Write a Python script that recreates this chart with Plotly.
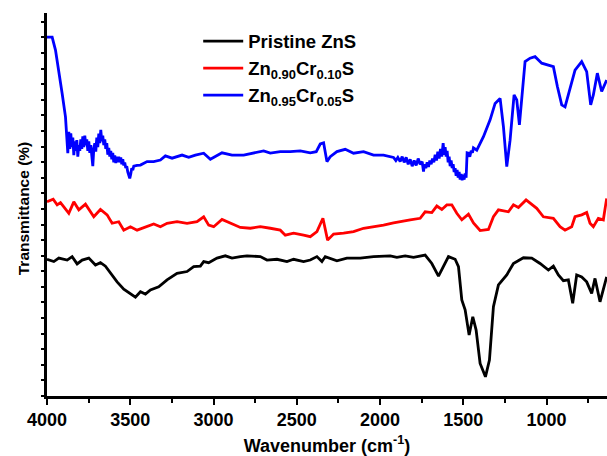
import plotly.graph_objects as go

# Pristine ZnS
wn_black = [4000, 3959, 3929, 3879, 3849, 3819, 3789, 3749, 3709, 3679, 3649, 3619, 3579, 3539, 3499, 3469,
            3439, 3409, 3379, 3329, 3279, 3219, 3159, 3119, 3079, 3059, 3029, 2979, 2929, 2889, 2839, 2799,
            2719, 2679, 2619, 2559, 2519, 2459, 2419, 2379, 2349, 2329, 2259, 2199, 2119, 2039, 1939, 1899,
            1849, 1799, 1729, 1689, 1649, 1619, 1589, 1549, 1529, 1509, 1489, 1465, 1443, 1423, 1399, 1367,
            1343, 1319, 1289, 1239, 1199, 1139, 1089, 1039, 989, 959, 929, 899, 869, 843, 819, 789, 759,
            729, 709, 679, 639]
t_black = [35.7, 35.1, 36.0, 35.5, 36.4, 34.5, 35.5, 36.0, 34.2, 34.8, 33.9, 32.0, 29.8, 27.9, 26.8, 25.8,
           27.2, 26.6, 27.7, 28.5, 30.3, 32.0, 32.5, 33.8, 33.9, 35.1, 34.8, 36.0, 36.6, 36.0, 36.4, 36.6,
           36.4, 35.5, 35.7, 35.1, 35.7, 35.1, 35.5, 36.4, 35.1, 36.4, 35.3, 36.0, 36.0, 36.4, 36.6, 36.2,
           36.6, 36.2, 36.8, 34.6, 31.3, 33.8, 36.4, 35.7, 33.8, 25.1, 22.5, 15.9, 20.7, 17.2, 8.5, 5.0,
           9.4, 23.3, 29.0, 31.6, 34.6, 36.1, 36.0, 34.6, 32.9, 33.9, 31.6, 30.1, 30.3, 24.2, 31.6, 31.1, 29.8,
           26.8, 30.7, 24.6, 31.1]

# Zn0.90Cr0.10S
wn_red = [4000, 3963, 3939, 3919, 3899, 3869, 3839, 3809, 3769, 3719, 3679, 3639, 3609, 3569, 3539, 3499,
          3459, 3399, 3359, 3319, 3279, 3219, 3159, 3099, 3059, 3029, 2999, 2949, 2919, 2889, 2839, 2779,
          2719, 2659, 2599, 2569, 2519, 2459, 2419, 2379, 2343, 2315, 2279, 2219, 2159, 2099, 2039, 1979,
          1919, 1859, 1819, 1759, 1729, 1689, 1659, 1629, 1599, 1569, 1539, 1509, 1469, 1439, 1399, 1349,
          1319, 1289, 1229, 1199, 1169, 1123, 1089, 1059, 1019, 959, 919, 889, 849, 829, 789, 759, 739,
          719, 689, 659, 639]
t_red = [50.7, 51.4, 49.9, 50.5, 49.4, 47.7, 50.7, 48.6, 50.1, 46.8, 48.7, 47.3, 45.1, 45.5, 43.3, 44.2,
         43.3, 44.2, 44.9, 44.2, 45.1, 45.5, 45.1, 45.5, 46.8, 44.6, 44.2, 46.1, 45.5, 45.1, 44.0, 43.8,
         44.2, 43.8, 43.3, 42.0, 42.5, 42.0, 41.6, 42.9, 46.4, 40.7, 42.3, 42.5, 42.9, 43.8, 44.2, 44.6,
         45.2, 45.8, 46.0, 46.4, 48.1, 47.9, 49.6, 48.7, 49.9, 49.9, 47.7, 46.0, 47.5, 45.2, 43.2, 43.5,
         46.8, 48.6, 48.1, 49.9, 49.2, 51.2, 49.9, 49.0, 46.8, 46.4, 44.2, 43.3, 44.2, 46.8, 47.3, 47.9, 45.1,
         44.2, 46.4, 46.0, 51.6]

# Zn0.95Cr0.05S
wn_blue = [4000, 3969, 3949, 3929, 3909, 3889,
           3875, 3869, 3863, 3857, 3851, 3845, 3839, 3833, 3827, 3821, 3815, 3809, 3803, 3797, 3791, 3785,
           3779, 3773, 3767, 3761, 3755, 3749, 3743, 3737, 3731, 3725, 3719, 3713, 3707, 3701, 3695, 3689,
           3683, 3677, 3671, 3665, 3659, 3653, 3647, 3641, 3635, 3629, 3623, 3617, 3611, 3605, 3599, 3593,
           3587, 3581, 3575, 3569, 3563, 3557, 3551, 3545, 3539, 3533, 3527, 3521, 3515, 3509, 3503, 3497,
           3491, 3485, 3479, 3459, 3439, 3399, 3359, 3319, 3289, 3249, 3189, 3149, 3109,
           3059, 3019, 2949, 2889, 2819, 2759, 2699, 2659, 2599, 2539, 2479, 2419, 2383, 2359, 2339, 2319,
           2299, 2259, 2209, 2159, 2099, 2039, 1979,
           1919, 1905, 1893, 1879, 1867, 1855, 1843, 1831, 1819, 1807, 1795, 1783, 1771, 1759, 1747, 1739,
           1733, 1725, 1717, 1709, 1701, 1693, 1685, 1677, 1669, 1661, 1653, 1645, 1637, 1629, 1621, 1615,
           1609, 1603, 1597, 1591, 1585, 1579, 1573, 1567, 1561, 1555, 1549, 1543, 1537, 1531, 1525, 1519,
           1513, 1507, 1501, 1495, 1489, 1483, 1477, 1469, 1461, 1453, 1445, 1439,
           1419, 1379, 1339, 1309, 1279, 1259, 1239, 1219, 1195, 1179, 1163, 1149,
           1129, 1099, 1069, 1029, 989, 959, 935, 909, 889, 859, 829, 789, 759, 735, 719, 695, 669, 639]
t_blue = [93.7, 93.7, 90.3, 85.1, 79.0, 72.9,
          63.4, 69.0, 64.5, 68.6, 65.0, 67.5, 62.9, 66.5, 64.0, 66.8, 62.5, 65.5, 64.0, 67.0, 64.5, 67.8,
          65.0, 68.0, 65.5, 67.0, 64.0, 66.5, 63.5, 65.5, 62.0, 60.0, 64.5, 66.0, 63.8, 67.5, 65.0, 68.5,
          66.0, 69.5, 66.5, 68.0, 65.5, 67.0, 64.5, 66.0, 63.0, 64.8, 62.5, 64.0, 61.8, 63.5, 61.0, 62.8,
          60.8, 62.5, 61.0, 62.5, 61.0, 62.3, 60.5, 61.8, 60.2, 61.0, 59.5, 60.0, 58.5, 57.5, 56.8, 58.0,
          59.5, 59.0, 60.0, 60.2, 60.3, 61.2, 61.2, 61.6, 62.7, 62.1, 62.9, 62.3, 62.9,
          63.4, 61.8, 63.5, 62.9, 62.9, 63.4, 64.0, 63.4, 63.8, 63.8, 64.0, 63.5, 63.8, 65.8, 66.1, 61.2,
          62.5, 63.8, 64.4, 63.4, 63.8, 62.9, 62.9,
          62.3, 61.5, 62.3, 61.2, 62.5, 61.0, 62.3, 60.5, 61.8, 60.0, 61.5, 60.2, 62.0, 60.5, 61.2, 58.6,
          60.5, 59.5, 61.0, 59.8, 61.5, 60.5, 62.0, 61.0, 63.0, 61.5, 63.8, 62.0, 64.5, 62.5, 66.0, 63.0,
          65.0, 62.5, 64.0, 61.0, 62.5, 60.0, 61.5, 59.5, 60.5, 58.5, 59.5, 57.5, 59.0, 57.0, 58.5, 56.5,
          58.0, 56.3, 57.8, 56.5, 58.1, 57.0, 63.5, 63.4, 62.5, 64.0, 63.5, 64.8,
          64.2, 67.7, 72.1, 76.4, 77.7, 70.3, 59.9, 66.8, 78.6, 77.3, 70.8, 78.1,
          87.3, 88.2, 88.6, 86.9, 86.4, 86.0, 80.8, 76.0, 75.5, 80.3, 85.1, 87.3, 84.7, 76.0, 78.6, 84.3, 79.5, 82.5]

series_names = ["Pristine ZnS", "Zn<sub>0.90</sub>Cr<sub>0.10</sub>S", "Zn<sub>0.95</sub>Cr<sub>0.05</sub>S"]
x_ticks = [4000, 3500, 3000, 2500, 2000, 1500, 1000]

FONT = "Liberation Sans, Arial, sans-serif"

fig = go.Figure()
for wn, t, name, col in [(wn_black, t_black, series_names[0], "black"),
                         (wn_red, t_red, series_names[1], "red"),
                         (wn_blue, t_blue, series_names[2], "blue")]:
    fig.add_trace(go.Scatter(x=wn, y=t, mode="lines", name=name,
                             line=dict(color=col, width=2.8)))

fig.update_layout(
    width=607, height=456,
    margin=dict(l=47, r=0, t=13, b=60),
    paper_bgcolor="white", plot_bgcolor="white",
    font=dict(family=FONT, color="black", size=14),
    showlegend=True,
    legend=dict(x=0.27, y=0.975, xanchor="left", yanchor="top",
                bgcolor="rgba(0,0,0,0)", font=dict(family=FONT, size=18.5, color="black", weight="bold"),
                tracegroupgap=0, itemwidth=40),
    annotations=[dict(text="Transmittance (%)", textangle=-90, xref="paper", yref="paper",
                      x=-0.043, y=0.49, xanchor="center", yanchor="middle", showarrow=False,
                      font=dict(family=FONT, size=15.5, color="black", weight="bold"))],
)
fig.update_xaxes(
    range=[4000, 637], showgrid=False, zeroline=False, automargin=False,
    showline=True, linecolor="black", linewidth=2.5,
    ticks="outside", ticklen=6, tickwidth=2, tickcolor="black",
    tickvals=x_ticks, ticktext=[str(v) for v in x_ticks],
    tickfont=dict(family=FONT, size=18, color="black", weight="bold"),
    minor=dict(dtick=250, tick0=0, ticks="outside", ticklen=4, tickwidth=2, tickcolor="black"),
    title=dict(text="Wavenumber (cm<sup>-1</sup>)", standoff=25,
               font=dict(family=FONT, size=18, color="black", weight="bold")),
)
fig.update_yaxes(
    range=[0, 100], showgrid=False, zeroline=False, automargin=False,
    showline=True, linecolor="black", linewidth=2.5,
    ticks="outside", ticklen=3, tickwidth=2, tickcolor="black",
    tick0=0, dtick=4.07, showticklabels=False,
)

fig.write_html("out.html")
